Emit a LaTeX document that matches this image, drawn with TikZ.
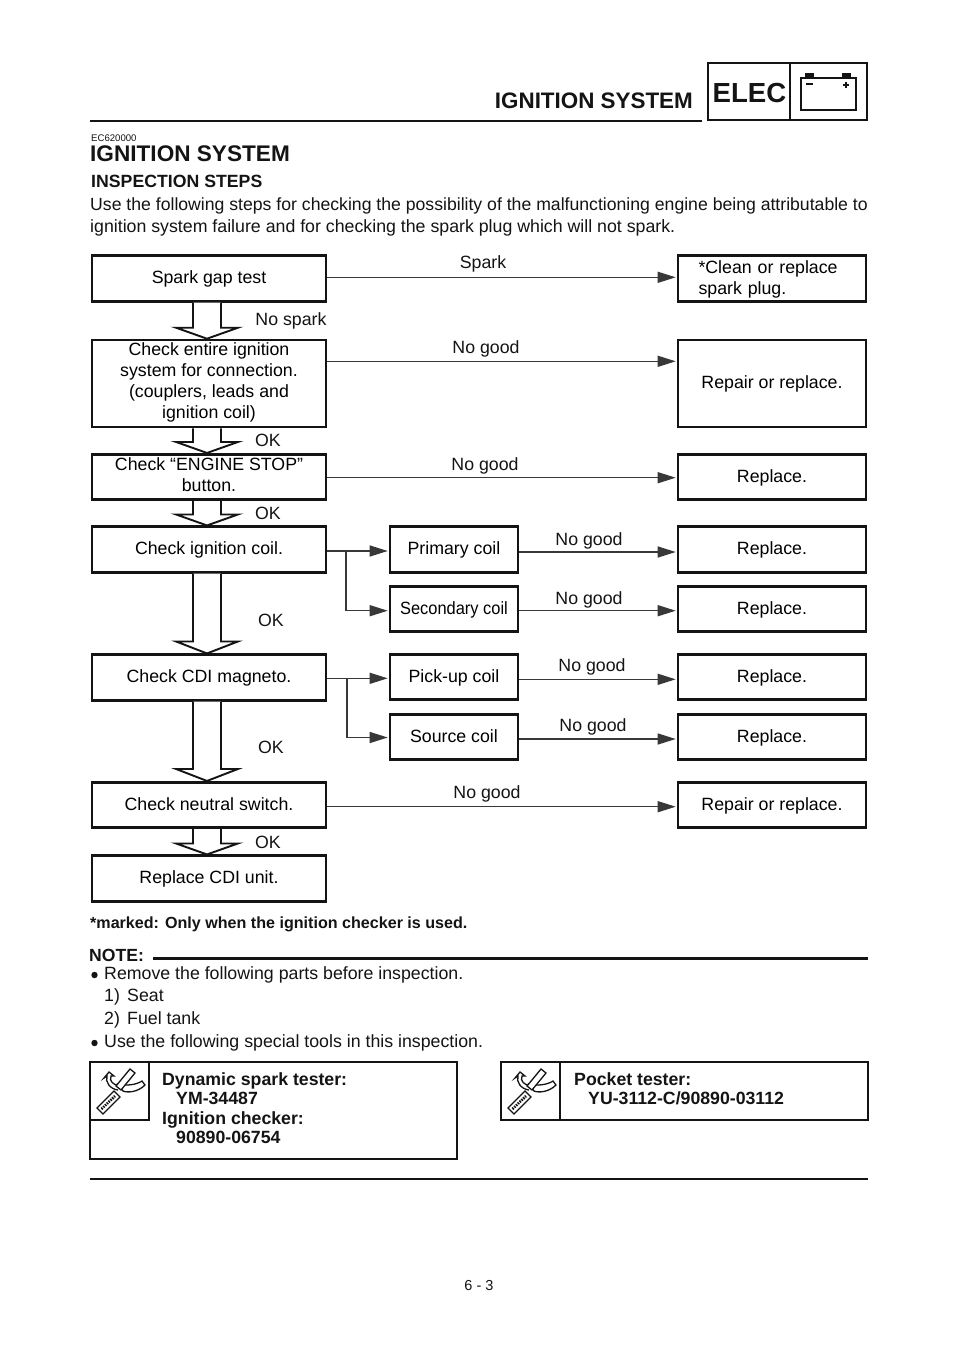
\documentclass[tikz,border=0pt]{standalone}
\usepackage{fontspec}
\setmainfont{Liberation Sans}
\usetikzlibrary{arrows.meta}
\usetikzlibrary{positioning}
\colorlet{Ink}{black!92}
\newcommand{\stepstrut}{\rule[-5.3pt]{0pt}{21pt}}
\tikzset{
  stepbox/.style={draw=Ink, line width=2.6pt, inner sep=0pt, align=center, font=\fontsize{17.75}{21}\selectfont,
    execute at begin node=\stepstrut, execute at end node=\stepstrut},
  leftbox/.style={stepbox, minimum width=234pt, minimum height=45.5pt},
  midbox/.style={stepbox, minimum width=128pt, minimum height=45.5pt},
  rightbox/.style={stepbox, minimum width=188pt, minimum height=45.5pt},
  flow/.style={draw=Ink!85, line width=1.3pt, -{Triangle[length=18pt,width=11pt]}, shorten >=1pt},
  blockarrow/.style={draw=Ink, line width=1.9pt, fill=white, line join=miter},
  lab/.style={font=\fontsize{17.75}{21}\selectfont, text=Ink, inner sep=0pt, anchor=base},
  body/.style={font=\fontsize{17.75}{21}\selectfont, text=Ink, inner sep=0pt, anchor=base west},
  bold/.style={font=\fontsize{17.7}{20}\selectfont\bfseries, text=Ink, inner sep=0pt, anchor=base west},
  rule/.style={draw=Ink, line width=2.6pt},
  frame/.style={draw=Ink, line width=2.6pt}
}
\newcommand{\blockdown}[3]{
  \draw[blockarrow] ([xshift=-16pt]#1.south) -- ([xshift=-16pt,yshift=#3]#2.north)
    -- ([xshift=-33pt,yshift=#3]#2.north) -- ([xshift=-2pt]#2.north)
    -- ([xshift=29pt,yshift=#3]#2.north) -- ([xshift=12pt,yshift=#3]#2.north)
    -- ([xshift=12pt]#1.south);
}
\newcommand{\toolicon}[2]{
  \begin{scope}[shift={(#1,#2)}, line width=1.3pt, draw=Ink]
    \draw[fill=white] (28,28) .. controls (20,27) and (15,20) .. (17,14) -- (14,16) -- (19,10) -- (24,14) -- (21,14)
       .. controls (19,19) and (23,23) .. (30,24);
    \draw[fill=white] (28,22) .. controls (36,24) and (46,23) .. (52,19) -- (55,23)
       .. controls (48,30) and (38,31) .. (33,29) -- cycle;
    \draw[fill=white] (26,24) -- (40,7) -- (45,11) -- (31,28) -- cycle;
    \draw[fill=white] (7,46) -- (24,29) -- (30,35) -- (13,52) -- cycle;
    \draw[line width=2.6pt, dash pattern=on 1.5pt off 1pt] (11.5,47) -- (25,34);
  \end{scope}
}
\begin{document}
\begin{tikzpicture}[x=1pt, y=-1pt]
  \useasboundingbox (0,0) rectangle (960,1358);
  \fill[white] (0,0) rectangle (960,1358);

  % page header
  \node[font=\fontsize{22.4}{24}\selectfont\bfseries, text=Ink, inner sep=0pt, anchor=base east] (headtitle) at (693,108) {IGNITION SYSTEM};
  \draw[rule] (90,121) -- (702,121);
  \draw[frame] (708,63) rectangle (867,120);
  \draw[frame] (790,63) -- (790,120);
  \node[font=\fontsize{27.6}{30}\selectfont\bfseries, text=Ink, inner sep=0pt, anchor=base] (elec) at (749.5,102) {ELEC};
  \draw[draw=Ink, line width=1.2pt] (801,78) rectangle (856,110);
  \fill[Ink] (805,73) rectangle (814,78);
  \fill[Ink] (842,73) rectangle (851,78);
  \draw[draw=Ink, line width=1.2pt] (806,84) -- (813,84);
  \draw[draw=Ink, line width=1.2pt] (843,85) -- (849,85) (846,82) -- (846,88);

  % heading and intro
  \node[font=\fontsize{9.6}{11}\selectfont, text=Ink, inner sep=0pt, anchor=base west] (code) at (91,141) {EC620000};
  \node[font=\fontsize{22.6}{28}\selectfont\bfseries, text=Ink, inner sep=0pt, anchor=base west] (title) at (90,161) {IGNITION SYSTEM};
  \node[bold] (steps) at (91,187) {INSPECTION STEPS};
  \node[body, font=\fontsize{17.64}{21}\selectfont] (para1) at (90,210) {Use the following steps for checking the possibility of the malfunctioning engine being attributable to};
  \node[body] (para2) at (90,232) {ignition system failure and for checking the spark plug which will not spark.};

  % left column
  \node[leftbox] (gap) at (209,278.5) {Spark gap test};
  \node[leftbox, minimum height=87pt] (entire) at (209,383.5) {Check entire ignition\\system for connection.\\(couplers, leads and\\ignition coil)};
  \node[leftbox] (stop) at (209,477) {Check “ENGINE STOP”\\button.};
  \node[leftbox] (coil) at (209,549.5) {Check ignition coil.};
  \node[leftbox] (cdi) at (209,677.5) {Check CDI magneto.};
  \node[leftbox] (neutral) at (209,805) {Check neutral switch.};
  \node[leftbox] (unit) at (209,878.5) {Replace CDI unit.};

  % middle column
  \node[midbox] (primary) at (454,549.5) {Primary coil};
  \node[midbox] (secondary) at (454,609) {\scalebox{0.925}[1]{Secondary coil}};
  \node[midbox] (pickup) at (454,677) {Pick-up coil};
  \node[midbox] (source) at (454,737) {Source coil};

  % right column
  \node[rightbox, align=left, text width=147pt] (clean) at (772,278.5) {*Clean or replace\\spark plug.};
  \node[rightbox, minimum height=87pt] (repair) at (772,383.5) {Repair or replace.};
  \node[rightbox] (rstop) at (772,477) {Replace.};
  \node[rightbox] (rprimary) at (772,549.5) {Replace.};
  \node[rightbox] (rsecondary) at (772,609) {Replace.};
  \node[rightbox] (rpickup) at (772,677) {Replace.};
  \node[rightbox] (rsource) at (772,737) {Replace.};
  \node[rightbox] (rneutral) at (772,805) {Repair or replace.};

  % block arrows
  \blockdown{gap}{entire}{11pt}
  \blockdown{entire}{stop}{11pt}
  \blockdown{stop}{coil}{11pt}
  \blockdown{coil}{cdi}{12pt}
  \blockdown{cdi}{neutral}{12pt}
  \blockdown{neutral}{unit}{11pt}

  % edges
  \draw[flow] ([yshift=1.2pt]gap.east) -- ([yshift=1.2pt]clean.west);
  \draw[flow] ([yshift=22.2pt]entire.east) -- ([yshift=22.2pt]repair.west);
  \draw[flow] ([yshift=-0.7pt]stop.east) -- ([yshift=-0.7pt]rstop.west);
  \draw[flow] ([yshift=-1.7pt]neutral.east) -- ([yshift=-1.7pt]rneutral.west);
  \draw[flow] ([yshift=-1.5pt]coil.east) -- ([yshift=-1.5pt]primary.west);
  \draw[flow] ([yshift=-0.8pt]cdi.east) -- ([yshift=-1.3pt]pickup.west);
  \coordinate (coilfork) at (346,551);
  \coordinate (cdifork) at (347,678.3);
  \draw[flow] (coilfork) |- ([yshift=-1.7pt]secondary.west);
  \draw[flow] (cdifork) |- ([yshift=-0.5pt]source.west);
  \draw[flow] ([yshift=-2.5pt]primary.east) -- ([yshift=-2.5pt]rprimary.west);
  \draw[flow] ([yshift=-1.7pt]secondary.east) -- ([yshift=-1.7pt]rsecondary.west);
  \draw[flow] ([yshift=-2.3pt]pickup.east) -- ([yshift=-2.3pt]rpickup.west);
  \draw[flow] ([yshift=-2pt]source.east) -- ([yshift=-2pt]rsource.west);

  % labels
  \node[lab] (lspark) at (483,268) {Spark};
  \node[lab] (lnospark) at (291,325) {No spark};
  \node[lab] (lgood1) at (486,353) {No good};
  \node[lab] (lok1) at (268,446) {OK};
  \node[lab] (lgood2) at (485,470) {No good};
  \node[lab] (lok2) at (268,519) {OK};
  \node[lab] (lgood3) at (589,545) {No good};
  \node[lab] (lgood4) at (589,604) {No good};
  \node[lab] (lok3) at (271,626) {OK};
  \node[lab] (lgood5) at (592,671) {No good};
  \node[lab] (lgood6) at (593,731) {No good};
  \node[lab] (lok4) at (271,753) {OK};
  \node[lab] (lgood7) at (487,798) {No good};
  \node[lab] (lok5) at (268,848) {OK};

  % footnote and note
  \node[bold, font=\fontsize{16.1}{18}\selectfont\bfseries] (marked) at (90,928) {*marked: Only when the ignition checker is used.};
  \node[bold, font=\fontsize{17.6}{21}\selectfont\bfseries] (note) at (89,961) {NOTE:};
  \draw[rule] (153,958.5) -- (868,958.5);
  \fill[Ink] (94.5,975) circle (3.2pt);
  \node[body] (rem) at (104,979) {Remove the following parts before inspection.};
  \node[body] (one) at (104,1001) {1)};
  \node[body] (seat) at (127,1001) {Seat};
  \node[body] (two) at (104,1024) {2)};
  \node[body] (tank) at (127,1024) {Fuel tank};
  \fill[Ink] (94.5,1043) circle (3.2pt);
  \node[body] (use) at (104,1047) {Use the following special tools in this inspection.};

  % tool boxes
  \draw[frame] (90,1062) rectangle (457,1159);
  \draw[frame] (90,1062) rectangle (149,1120);
  \toolicon{90}{1062}
  \node[bold] (tool1) at (162,1085) {Dynamic spark tester:};
  \node[bold] (part1) at (176,1104) {YM-34487};
  \node[bold] (tool2) at (162,1124) {Ignition checker:};
  \node[bold] (part2) at (176,1143) {90890-06754};
  \draw[frame] (501,1062) rectangle (868,1120);
  \draw[frame] (501,1062) rectangle (560,1120);
  \toolicon{501}{1062}
  \node[bold] (tool3) at (574,1085) {Pocket tester:};
  \node[bold] (part3) at (588,1104) {YU-3112-C/90890-03112};

  % page foot
  \draw[rule] (90,1179) -- (868,1179);
  \node[font=\fontsize{14.5}{17}\selectfont, text=Ink, inner sep=0pt, anchor=base] (page) at (479,1290) {6 - 3};
\end{tikzpicture}
\end{document}
